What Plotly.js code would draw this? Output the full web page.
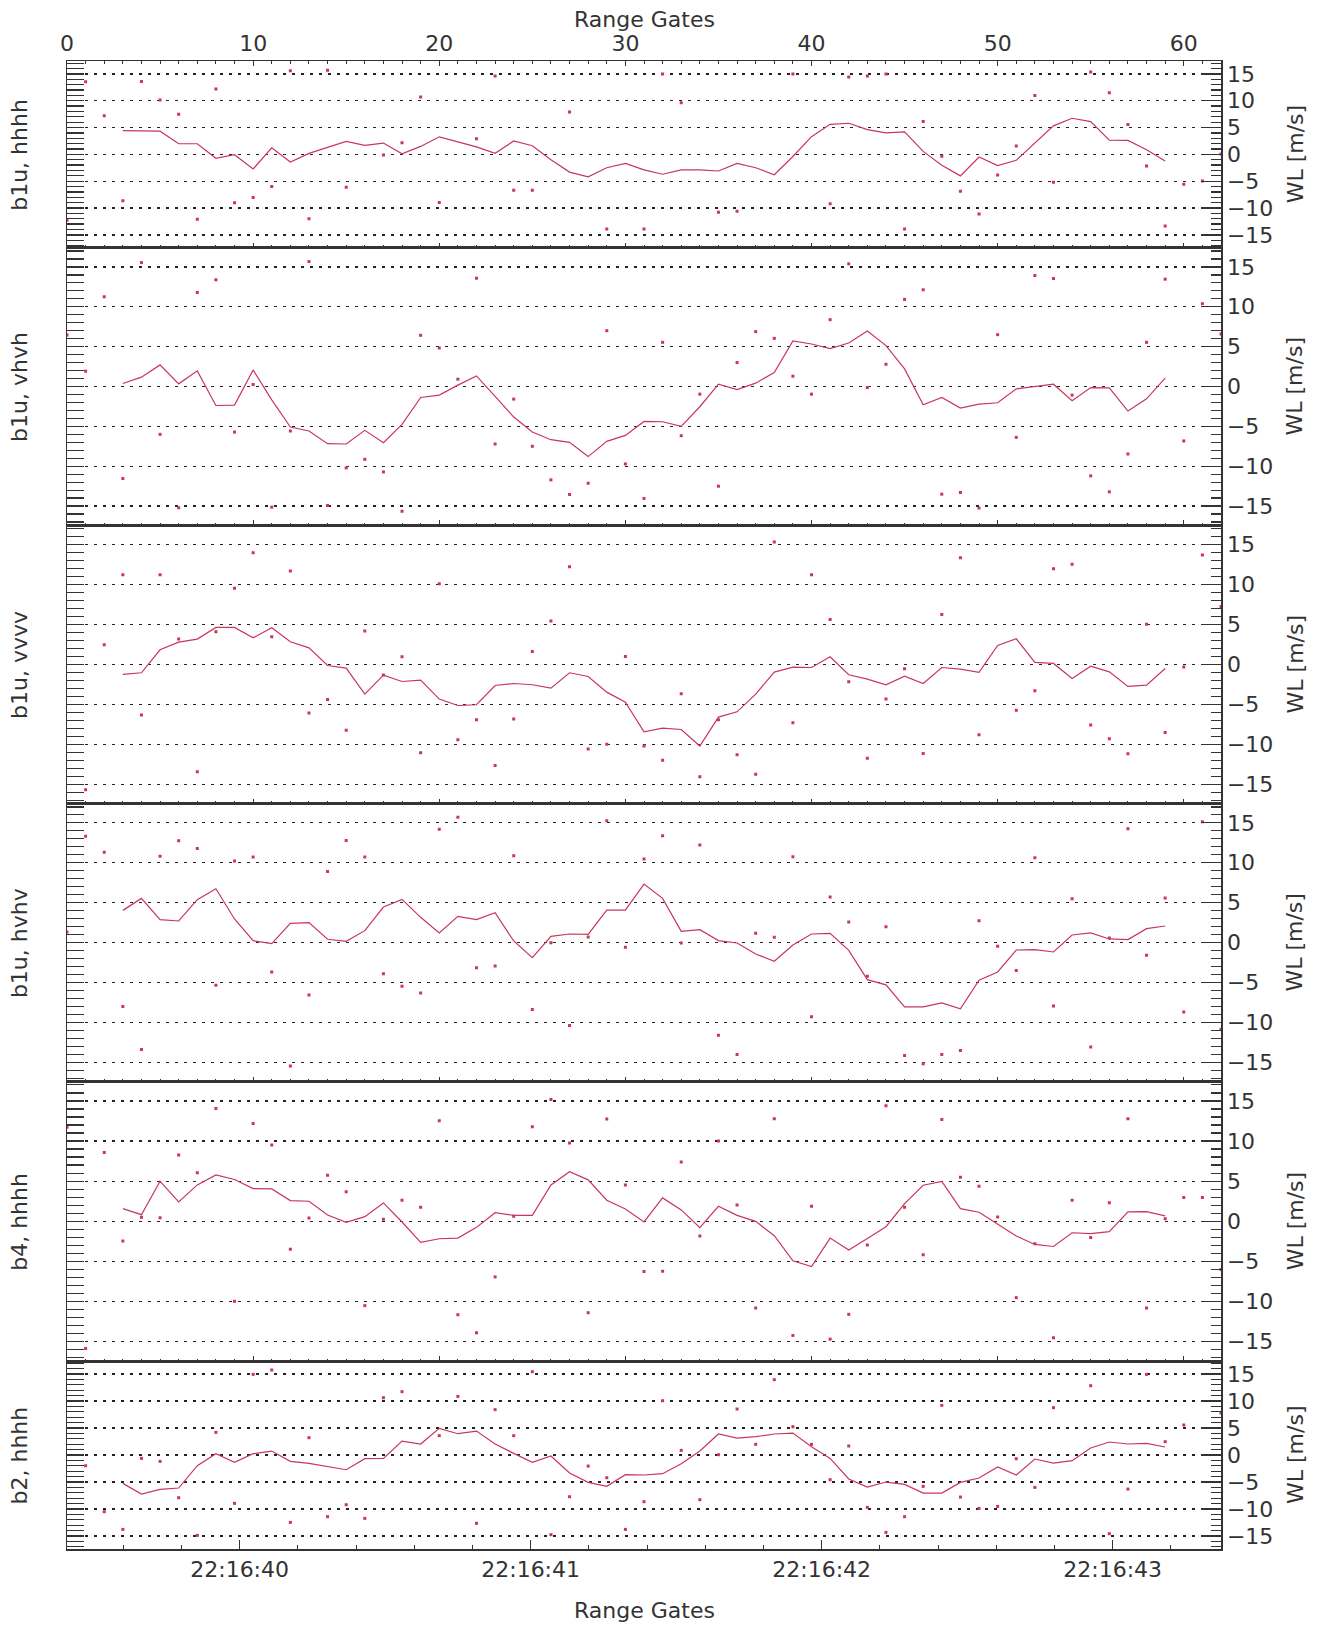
<!DOCTYPE html>
<html><head><meta charset="utf-8">
<script src="https://cdn.plot.ly/plotly-3.0.1.min.js"></script>
<style>html,body{margin:0;padding:0;background:#fff}#chart{width:1327px;height:1627px}</style>
</head><body><div id="chart"></div>
<script>
// ---------- data ----------
const panelLabels = ["b1u, hhhh", "b1u, vhvh", "b1u, vvvv", "b1u, hvhv", "b4, hhhh", "b2, hhhh"];
const lineGates = [3,4,5,6,7,8,9,10,11,12,13,14,15,16,17,18,19,20,21,22,23,24,25,26,27,28,29,30,31,32,33,34,35,36,37,38,39,40,41,42,43,44,45,46,47,48,49,50,51,52,53,54,55,56,57,58,59];
const dotGates = [0,1,2,3,4,5,6,7,8,9,10,11,12,13,14,15,16,17,18,19,20,21,22,23,24,25,26,27,28,29,30,31,32,33,34,35,36,37,38,39,40,41,42,43,44,45,46,47,48,49,50,51,52,53,54,55,56,57,58,59,60,61,62];

const wl_b1u_hhhh = [4.44,4.44,4.32,1.98,1.98,-0.74,-0.06,-2.72,1.23,-1.42,0.19,1.3,2.41,1.67,2.1,0.12,1.48,3.27,2.3,1.4,0.2,2.5,1.6,-1.0,-3.3,-4.2,-2.5,-1.7,-2.9,-3.7,-2.9,-2.9,-3.1,-1.7,-2.5,-3.8,-0.4,3.3,5.6,5.8,4.6,4.01,4.2,0.56,-2.04,-4.01,-0.49,-2.1,-1.11,2.16,5.31,6.73,6.11,2.65,2.59,0.86,-1.23];
const wl_b1u_vhvh = [0.38,1.17,2.71,0.33,1.96,-2.38,-2.33,2.08,-1.67,-5.08,-5.58,-7.17,-7.21,-5.5,-7.04,-4.75,-1.38,-1.08,0.17,1.33,-1.25,-3.83,-5.71,-6.67,-7.0,-8.79,-6.88,-6.13,-4.38,-4.42,-5.0,-2.54,0.29,-0.38,0.42,1.75,5.71,5.33,4.75,5.46,6.96,5.13,2.21,-2.29,-1.38,-2.71,-2.21,-2.04,-0.29,0.04,0.29,-1.79,-0.13,-0.17,-3.08,-1.54,1.04];
const wl_b1u_vvvv = [-1.25,-1.04,1.83,2.79,3.17,4.63,4.63,3.33,4.58,2.83,2.08,-0.13,-0.46,-3.71,-1.33,-2.13,-1.96,-4.33,-5.13,-5.04,-2.63,-2.38,-2.54,-2.96,-1.04,-1.5,-3.46,-4.71,-8.42,-7.96,-8.13,-10.2,-6.58,-5.92,-3.71,-0.96,-0.33,-0.38,0.96,-1.29,-1.83,-2.54,-1.46,-2.38,-0.38,-0.58,-1.0,2.38,3.21,0.25,0.13,-1.75,-0.21,-0.92,-2.75,-2.58,-0.5];
const wl_b1u_hvhv = [4.04,5.54,2.88,2.71,5.38,6.75,2.96,0.25,-0.13,2.42,2.5,0.42,0.17,1.5,4.46,5.42,3.17,1.21,3.29,2.88,3.75,0.21,-1.88,0.79,1.08,1.04,4.08,4.08,7.33,5.54,1.42,1.63,0.25,-0.04,-1.42,-2.33,-0.29,1.08,1.17,-0.96,-4.63,-5.29,-8.04,-8.04,-7.54,-8.29,-4.71,-3.67,-0.92,-0.88,-1.17,0.96,1.21,0.46,0.38,1.75,2.08];
const wl_b4_hhhh = [1.58,0.83,5.0,2.42,4.54,5.79,5.21,4.08,4.04,2.58,2.5,0.79,-0.13,0.58,2.29,-0.08,-2.63,-2.17,-2.08,-0.75,1.08,0.75,0.75,4.54,6.17,5.17,2.63,1.54,-0.08,2.92,1.42,-0.79,1.88,0.75,0,-1.79,-4.92,-5.63,-2.08,-3.58,-2.13,-0.67,2.21,4.5,4.96,1.58,1.13,-0.38,-1.83,-2.88,-3.13,-1.42,-1.54,-1.29,1.17,1.21,0.67];
const wl_b2_hhhh = [-5.25,-7.22,-6.36,-6.11,-1.98,0.25,-1.36,0.25,0.74,-1.17,-1.54,-2.16,-2.72,-0.68,-0.62,2.59,2.04,4.94,3.95,4.44,2.04,0.31,-1.36,-0.19,-3.33,-5.06,-5.8,-3.64,-3.7,-3.46,-1.6,0.74,3.89,3.15,3.4,3.89,4.07,1.54,-0.62,-4.44,-5.93,-5.0,-5.43,-7.04,-7.04,-5.06,-4.26,-2.22,-3.7,-0.74,-1.48,-1.05,1.3,2.41,2.04,2.16,1.48];

const pts_b1u_hhhh = [-12.28,13.52,7.22,-8.64,13.58,10.12,7.47,-12.1,12.16,-9.01,-8.02,-5.99,15.56,-11.98,15.68,-6.11,null,-0.12,2.16,10.68,-8.95,null,2.9,14.6,-6.7,-6.7,null,7.9,null,-13.9,null,-13.9,15.0,9.6,null,-10.8,-10.6,null,null,15.0,null,-9.2,14.4,14.6,15.0,-13.89,6.11,-0.37,-6.85,-11.11,-3.83,1.54,10.99,-5.19,null,15.37,11.48,5.56,-2.16,-13.33,-5.56,-4.94,0.06];
const pts_b1u_vhvh = [6.46,1.92,11.25,-11.54,15.54,-6.0,-15.21,11.79,13.38,-5.71,0.25,-15.13,-5.58,15.67,-14.92,-10.21,-9.13,-10.71,-15.63,6.42,4.83,0.92,13.58,-7.21,-1.58,-7.5,-11.71,-13.54,-12.13,7.0,-9.71,-14.04,5.54,-6.17,-0.96,-12.5,3.0,6.88,6.04,1.29,-0.96,8.38,15.38,-0.13,2.79,10.92,12.13,-13.5,-13.29,-15.25,6.5,-6.38,13.92,13.54,-1.08,-11.21,-13.21,-8.46,5.54,13.46,-6.83,10.38,6.58];
const pts_b1u_vvvv = [null,-15.67,2.46,11.2,-6.33,11.2,3.17,-13.4,4.08,9.54,13.96,3.46,11.67,-6.08,-4.38,-8.21,4.17,-1.33,0.96,-11.04,10.08,-9.42,-6.92,-12.63,-6.83,1.63,5.42,12.2,-10.58,-9.96,1.0,-10.2,-11.96,-3.67,-14.04,-6.92,-11.29,-13.71,15.3,-7.29,11.2,5.63,-2.17,-11.71,-4.33,-0.54,-11.13,6.25,13.33,-8.79,null,-5.71,-3.29,11.96,12.54,-7.58,-9.29,-11.17,5.04,-8.5,-0.33,13.67,7.25];
const pts_b1u_hvhv = [1.33,13.33,11.33,-8.0,-13.38,10.83,12.75,11.79,-5.33,10.21,10.71,-3.67,-15.46,-6.54,8.92,12.79,10.71,-3.88,-5.46,-6.29,14.21,15.71,-3.13,-2.92,10.88,-8.38,0,-10.38,0.71,15.25,-0.58,10.46,13.38,-0.04,12.21,-11.58,-14.0,1.17,0.67,10.75,-9.29,5.71,2.58,-4.21,2.0,-14.13,-15.17,-14.0,-13.5,2.75,-0.46,-3.5,10.63,-7.92,5.5,-13.08,0.58,14.25,-1.58,5.58,-8.67,15.13,-10.83];
const pts_b4_hhhh = [11.71,-15.83,8.58,-2.46,0.5,0.46,8.25,6.04,14.04,-9.96,12.17,9.5,-3.46,0.42,5.75,3.67,-10.5,0.25,2.63,1.75,12.54,-11.63,-13.88,-6.92,0.63,11.79,15.17,9.75,-11.38,12.75,4.54,-6.25,-6.21,7.38,-1.83,10.0,2.04,-10.79,12.79,-14.21,1.88,-14.67,-11.58,-2.96,14.38,1.75,-4.17,12.67,5.5,4.38,0.54,-9.5,-2.79,-14.5,2.63,-2.0,2.33,12.79,-10.79,0.33,2.96,2.96,-6.0];
const pts_b2_hhhh = [null,-1.98,-10.49,-13.77,-0.62,-1.17,-7.9,-14.88,4.2,-8.95,14.94,15.74,-12.47,3.21,-11.42,-9.2,-11.73,10.62,11.73,null,3.58,10.86,-12.65,8.4,3.58,15.43,-14.75,-7.72,-2.04,-4.2,-13.77,-8.64,10.06,0.86,-8.27,0.06,8.52,1.98,13.95,5.25,1.98,-4.57,1.67,-9.69,-14.32,-11.42,-5.8,9.2,-7.78,-9.88,-9.51,-0.68,-5.99,8.77,null,12.84,-14.57,-6.3,14.94,2.47,5.56,null,7.78];

const lineSeries = [wl_b1u_hhhh, wl_b1u_vhvh, wl_b1u_vvvv, wl_b1u_hvhv, wl_b4_hhhh, wl_b2_hhhh];
const dotSeries = [pts_b1u_hhhh, pts_b1u_vhvh, pts_b1u_vvvv, pts_b1u_hvhv, pts_b4_hhhh, pts_b2_hhhh];

const wlTicks = [-15,-10,-5,0,5,10,15];
const gateTicks = [0,10,20,30,40,50,60];
const timeTickSeconds = [40,41,42,43];           // seconds after 22:16:00
const timeTickText = ["22:16:40","22:16:41","22:16:42","22:16:43"];

// ---------- layout ----------
const RED = "#c8375a";
const INK = "#333";
const FONT = {family: "DejaVu Sans, Liberation Sans, sans-serif", size: 22, color: "#333"};
const domains = [[0.8745,1.0],[0.6880,0.8745],[0.5009,0.6880],[0.3141,0.5009],[0.1263,0.3141],[0,0.1263]];
const YR = [-17.4, 17.4];
const GR = [0, 62];
// time scale of the gate axis (bottom panel): second at gate 0 and seconds per gate
const T0 = 39.4068, SEC_PER_GATE = 0.06396;
const toGate = t => (t - T0) / SEC_PER_GATE;

const traces = [];
const layout = {
  width: 1327, height: 1627,
  paper_bgcolor: "#fff", plot_bgcolor: "#fff",
  showlegend: false,
  font: FONT,
  margin: {l: 67, r: 106, t: 61, b: 78, autoexpand: false},
  annotations: []
};

for (let i = 0; i < 6; i++) {
  const n = i + 1;
  const xk = n === 1 ? "x" : "x" + n;
  const yk = n === 1 ? "y" : "y" + n;
  const yr = "y" + (n + 6);

  traces.push({x: lineGates, y: lineSeries[i], xaxis: xk, yaxis: yk, type: "scatter", mode: "lines",
               line: {color: RED, width: 1.2}, hoverinfo: "skip"});
  traces.push({x: dotGates, y: dotSeries[i], xaxis: xk, yaxis: yr, type: "scatter", mode: "markers",
               marker: {color: RED, size: 3, symbol: "square"}, hoverinfo: "skip"});

  let xa = {
    domain: [0, 1], anchor: yk, range: GR, showgrid: false, zeroline: false,
    showline: true, mirror: true, linecolor: INK, linewidth: 1.5,
    ticks: "inside", tickvals: gateTicks, ticklen: 5, tickcolor: INK, tickwidth: 1,
    minor: {ticks: "inside", dtick: 1, ticklen: 2.5, tickcolor: INK, tickwidth: 1},
    showticklabels: false
  };
  if (n === 1) {
    xa.side = "top";
    xa.mirror = "ticks";
    xa.showticklabels = true;
    xa.tickfont = FONT;
  }
  if (n === 6) {
    xa.tickvals = timeTickSeconds.map(toGate);
    xa.ticktext = timeTickText;
    xa.ticklen = 9;
    xa.minor = {ticks: "inside", tick0: toGate(40), dtick: 0.2 / SEC_PER_GATE, ticklen: 4, tickcolor: INK, tickwidth: 1};
    xa.showticklabels = true;
    xa.tickfont = FONT;
  }
  layout["xaxis" + (n === 1 ? "" : n)] = xa;

  layout["yaxis" + (n === 1 ? "" : n)] = {
    domain: domains[i], anchor: xk, range: YR, side: "left",
    showline: true, linecolor: INK, linewidth: 1.5, zeroline: false,
    showgrid: true, gridcolor: "#222", gridwidth: 1.3, griddash: "3px,6px",
    tickvals: wlTicks, ticks: "inside", ticklen: 17, tickcolor: INK, tickwidth: 1.3,
    minor: {ticks: "inside", dtick: 1, ticklen: 17, tickcolor: INK, tickwidth: 1.3, showgrid: false},
    showticklabels: false
  };
  layout["yaxis" + (n + 6)] = {
    domain: domains[i], anchor: xk, overlaying: yk, range: YR, side: "right",
    showline: true, linecolor: INK, linewidth: 1.5, zeroline: false, showgrid: false,
    tickvals: wlTicks, ticks: "inside", ticklen: 20, tickcolor: INK, tickwidth: 1.3,
    minor: {ticks: "inside", dtick: 1, ticklen: 10, tickcolor: INK, tickwidth: 1.3, showgrid: false},
    showticklabels: true, tickfont: FONT
  };

  layout.annotations.push({text: panelLabels[i], xref: "paper", yref: "paper", x: -0.0412,
    y: (domains[i][0] + domains[i][1]) / 2, xanchor: "center", yanchor: "middle", textangle: -90,
    showarrow: false, font: FONT});
  layout.annotations.push({text: "WL [m/s]", xref: "paper", yref: "paper", x: 1.0641,
    y: (domains[i][0] + domains[i][1]) / 2, xanchor: "center", yanchor: "middle", textangle: -90,
    showarrow: false, font: FONT});
}

layout.annotations.push({text: "Range Gates", xref: "paper", yref: "paper", x: 0.5, y: 1.0282,
  xanchor: "center", yanchor: "middle", showarrow: false, font: FONT});
layout.annotations.push({text: "Range Gates", xref: "paper", yref: "paper", x: 0.5, y: -0.041,
  xanchor: "center", yanchor: "middle", showarrow: false, font: FONT});

Plotly.newPlot("chart", traces, layout, {staticPlot: true, displayModeBar: false});
</script>
</body></html>
